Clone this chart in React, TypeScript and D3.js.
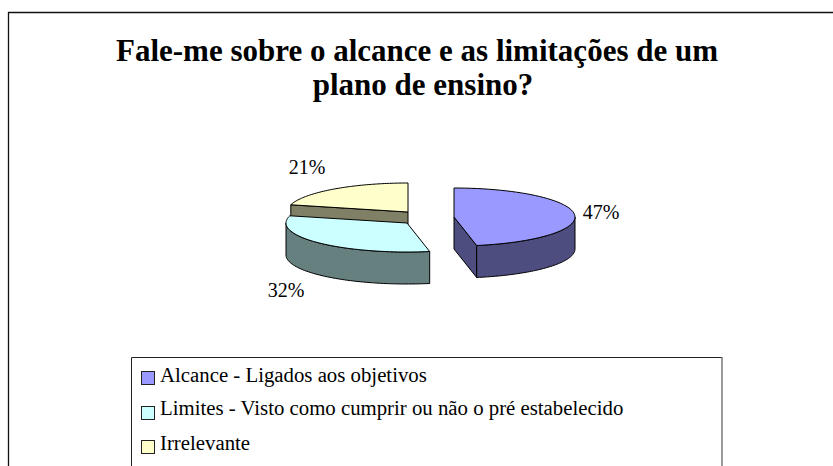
import React from "react";
import * as d3 from "d3";

const titleLines = ["Fale-me sobre o alcance e as limitações de um", "plano de ensino?"];
const titleX = [417, 423];
const titleY = [61, 95];
const categories = ["Alcance - Ligados aos objetivos", "Limites - Visto como cumprir ou não o pré estabelecido", "Irrelevante"];
const values = [47, 32, 21];
const topColors = ["#9999FF", "#CCFFFF", "#FFFFCC"];
const wallColors = ["#4D4D80", "#668080", "#808066"];
const centers: [number, number][] = [[454, 217], [407, 223], [408, 212]];
const labelPos: [number, number][] = [[601, 219], [286, 297], [307, 174]];
const legendSwatchY = [371, 406, 440];
const legendTextY = [382, 415, 450];

const RX = 121, RY = 29, DEPTH = 32;
const serif = "'Liberation Serif', 'Times New Roman', serif";

const pt = (c: [number, number], a: number, dy = 0): [number, number] => [
  c[0] + RX * Math.sin(a),
  c[1] - RY * Math.cos(a) + dy,
];

const arcPts = (c: [number, number], a0: number, a1: number, dy = 0) =>
  d3.range(0, 61).map((i) => pt(c, a0 + ((a1 - a0) * i) / 60, dy));

const lineGen = d3.line();

export default function App() {
  const slices = d3.pie<number>().sort(null)(values);
  const order = [2, 1, 0];
  return (
    <svg width={833} height={466} style={{ position: "absolute", left: 0, top: 0, background: "#fff" }}>
      <path d="M8.5 466V12.5H833" fill="none" stroke="#111" strokeWidth={1.3} />
      {titleLines.map((t, i) => (
        <text key={i} x={titleX[i]} y={titleY[i]} textAnchor="middle" fontFamily={serif} fontWeight="bold" fontSize={31} fill="#000">
          {t}
        </text>
      ))}
      {order.map((i) => {
        const s = slices[i];
        const c = centers[i];
        const a0 = s.startAngle, a1 = s.endAngle;
        const walls: [number, number][][] = [];
        if (-Math.sin(a0) > 1e-6) {
          walls.push([c, pt(c, a0), pt(c, a0, DEPTH), [c[0], c[1] + DEPTH]]);
        }
        if (Math.sin(a1) > 1e-6) {
          walls.push([c, pt(c, a1), pt(c, a1, DEPTH), [c[0], c[1] + DEPTH]]);
        }
        const w0 = Math.max(a0, Math.PI / 2), w1 = Math.min(a1, (3 * Math.PI) / 2);
        if (w1 > w0) {
          walls.push([...arcPts(c, w0, w1), ...arcPts(c, w1, w0, DEPTH)]);
        }
        const top: [number, number][] = [c, ...arcPts(c, a0, a1)];
        return (
          <g key={i}>
            {walls.map((w, k) => (
              <path key={k} d={lineGen(w) + "Z"} fill={wallColors[i]} stroke="#000" strokeWidth={1} strokeLinejoin="round" />
            ))}
            <path d={lineGen(top) + "Z"} fill={topColors[i]} stroke="#000" strokeWidth={1} strokeLinejoin="round" />
          </g>
        );
      })}
      {values.map((v, i) => (
        <text key={i} x={labelPos[i][0]} y={labelPos[i][1]} textAnchor="middle" fontFamily={serif} fontSize={20} fill="#000">
          {v}%
        </text>
      ))}
      <path d="M131.5 466V357.5H722" fill="none" stroke="#222" strokeWidth={1} />
      <path d="M722 357V466" fill="none" stroke="#777" strokeWidth={1.5} />
      {categories.map((t, i) => (
        <g key={i}>
          <rect x={141.5} y={legendSwatchY[i] + 0.5} width={13} height={13} fill={topColors[i]} stroke="#222" strokeWidth={1} />
          <text x={160} y={legendTextY[i]} fontFamily={serif} fontSize={20.8} fill="#000">
            {t}
          </text>
        </g>
      ))}
    </svg>
  );
}
